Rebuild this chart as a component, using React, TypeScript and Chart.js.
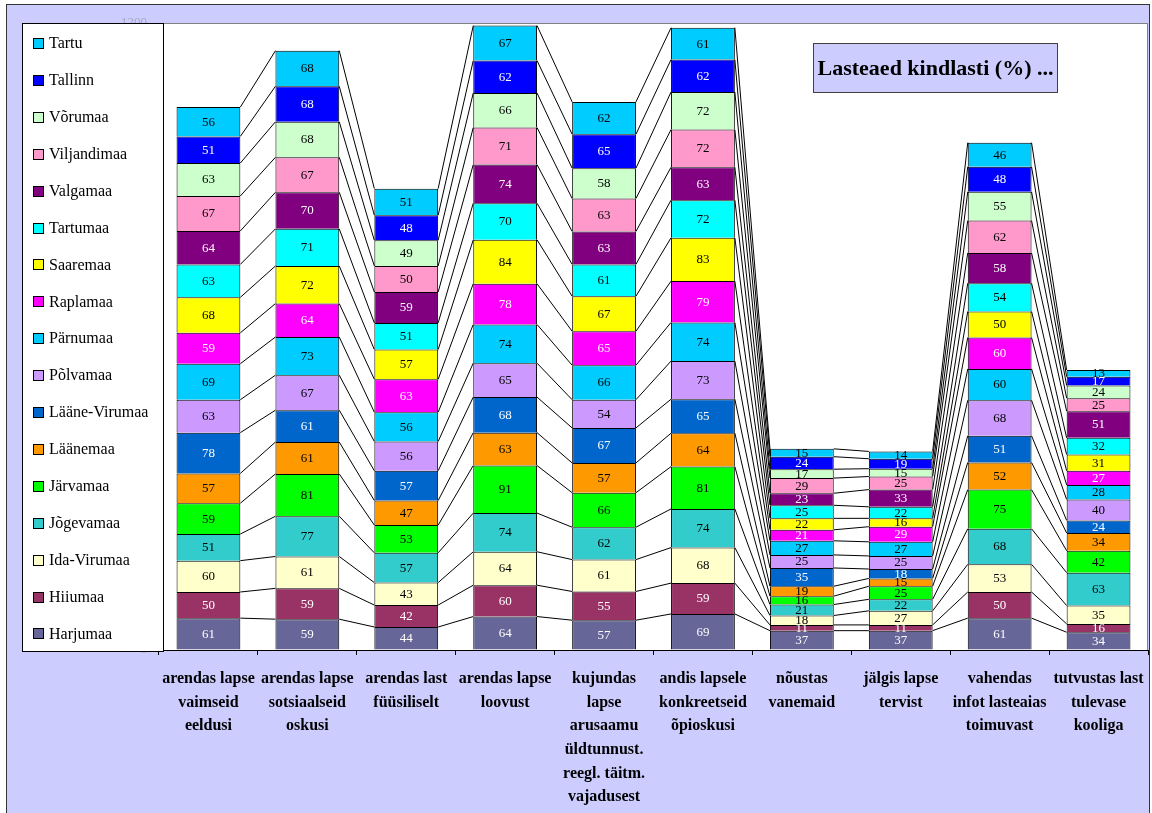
import React, { useEffect, useRef } from "react";
import { Chart, registerables } from "chart.js";
Chart.register(...registerables);

const FONT = "'Liberation Serif', 'Times New Roman', serif";

const categories: string[][] = [
  ["arendas lapse", "vaimseid", "eeldusi"],
  ["arendas lapse", "sotsiaalseid", "oskusi"],
  ["arendas last", "füüsiliselt"],
  ["arendas lapse", "loovust"],
  ["kujundas", "lapse", "arusaamu", "üldtunnust.", "reegl. täitm.", "vajadusest"],
  ["andis lapsele", "konkreetseid", "õpioskusi"],
  ["nõustas", "vanemaid"],
  ["jälgis lapse", "tervist"],
  ["vahendas", "infot lasteaias", "toimuvast"],
  ["tutvustas last", "tulevase", "kooliga"],
];

const harjumaa = [61, 59, 44, 64, 57, 69, 37, 37, 61, 34];
const hiiumaa = [50, 59, 42, 60, 55, 59, 11, 11, 50, 16];
const idaVirumaa = [60, 61, 43, 64, 61, 68, 18, 27, 53, 35];
const jogevamaa = [51, 77, 57, 74, 62, 74, 21, 22, 68, 63];
const jarvamaa = [59, 81, 53, 91, 66, 81, 16, 25, 75, 42];
const laanemaa = [57, 61, 47, 63, 57, 64, 19, 15, 52, 34];
const laaneVirumaa = [78, 61, 57, 68, 67, 65, 35, 18, 51, 24];
const polvamaa = [63, 67, 56, 65, 54, 73, 25, 25, 68, 40];
const parnumaa = [69, 73, 56, 74, 66, 74, 27, 27, 60, 28];
const raplamaa = [59, 64, 63, 78, 65, 79, 21, 29, 60, 27];
const saaremaa = [68, 72, 57, 84, 67, 83, 22, 16, 50, 31];
const tartumaa = [63, 71, 51, 70, 61, 72, 25, 22, 54, 32];
const valgamaa = [64, 70, 59, 74, 63, 63, 23, 33, 58, 51];
const viljandimaa = [67, 67, 50, 71, 63, 72, 29, 25, 62, 25];
const vorumaa = [63, 68, 49, 66, 58, 72, 17, 15, 55, 24];
const tallinn = [51, 68, 48, 62, 65, 62, 24, 19, 48, 17];
const tartu = [56, 68, 51, 67, 62, 61, 15, 14, 46, 13];

const seriesNames = [
  "Harjumaa", "Hiiumaa", "Ida-Virumaa", "Jõgevamaa", "Järvamaa", "Läänemaa",
  "Lääne-Virumaa", "Põlvamaa", "Pärnumaa", "Raplamaa", "Saaremaa", "Tartumaa",
  "Valgamaa", "Viljandimaa", "Võrumaa", "Tallinn", "Tartu",
];
const seriesData = [
  harjumaa, hiiumaa, idaVirumaa, jogevamaa, jarvamaa, laanemaa, laaneVirumaa,
  polvamaa, parnumaa, raplamaa, saaremaa, tartumaa, valgamaa, viljandimaa,
  vorumaa, tallinn, tartu,
];
const seriesColors = [
  "#666699", "#993366", "#FFFFCC", "#33CCCC", "#00FF00", "#FF9900",
  "#0066CC", "#CC99FF", "#00CCFF", "#FF00FF", "#FFFF00", "#00FFFF",
  "#800080", "#FF99CC", "#CCFFCC", "#0000FF", "#00CCFF",
];
const labelColors = [
  "#FFFFFF", "#FFFFFF", "#000000", "#000000", "#000000", "#000000",
  "#FFFFFF", "#000000", "#000000", "#FFFFFF", "#000000", "#000000",
  "#FFFFFF", "#000000", "#000000", "#FFFFFF", "#000000",
];
const yTicks = [0, 1200];
const chartTitle = "Lasteaed kindlasti (%) ...";

const framePlugin = {
  id: "frame",
  beforeDraw(chart: any) {
    const { ctx, chartArea: a } = chart;
    ctx.save();
    ctx.fillStyle = "#FFFFFF";
    ctx.fillRect(0, 0, chart.width, chart.height);
    ctx.fillStyle = "#CCCCFF";
    ctx.fillRect(6, 4, 1144, chart.height);
    ctx.strokeStyle = "#333333";
    ctx.lineWidth = 1;
    ctx.strokeRect(6.5, 4.5, 1143, chart.height + 2);
    ctx.fillStyle = "#FFFFFF";
    ctx.fillRect(a.left, a.top, a.right - a.left, a.bottom - a.top);
    ctx.strokeStyle = "#808080";
    ctx.strokeRect(a.left + 0.5, a.top + 0.5, a.right - a.left - 1, a.bottom - a.top);
    ctx.restore();
  },
};

const overlayPlugin = {
  id: "overlay",
  afterDatasetsDraw(chart: any) {
    const { ctx } = chart;
    const n = seriesData.length;
    const metas = seriesData.map((_, i) => chart.getDatasetMeta(i));
    ctx.save();
    // series lines
    ctx.strokeStyle = "#000000";
    ctx.lineWidth = 1;
    for (let c = 0; c < categories.length - 1; c++) {
      for (let s = 0; s < n; s++) {
        const a = metas[s].data[c];
        const b = metas[s].data[c + 1];
        ctx.beginPath();
        ctx.moveTo(a.x + a.width / 2, a.y);
        ctx.lineTo(b.x - b.width / 2, b.y);
        ctx.stroke();
      }
    }
    // value labels
    ctx.font = `13px ${FONT}`;
    ctx.textAlign = "center";
    ctx.textBaseline = "middle";
    for (let s = 0; s < n; s++) {
      ctx.fillStyle = labelColors[s];
      metas[s].data.forEach((el: any, c: number) => {
        ctx.fillText(String(seriesData[s][c]), el.x, (el.y + el.base) / 2 + 0.5);
      });
    }
    ctx.restore();
  },
  afterDraw(chart: any) {
    const { ctx } = chart;
    ctx.save();
    // legend box
    ctx.fillStyle = "#FFFFFF";
    ctx.fillRect(22, 23, 141, 628);
    ctx.strokeStyle = "#000000";
    ctx.lineWidth = 1;
    ctx.strokeRect(22.5, 23.5, 141, 628);
    ctx.font = `16px ${FONT}`;
    ctx.textAlign = "left";
    ctx.textBaseline = "middle";
    const n = seriesNames.length;
    for (let k = 0; k < n; k++) {
      const s = n - 1 - k;
      const cy = 43 + k * 36.9;
      ctx.fillStyle = seriesColors[s];
      ctx.fillRect(33, Math.round(cy) - 5, 10, 10);
      ctx.strokeStyle = "#000000";
      ctx.strokeRect(33.5, Math.round(cy) - 4.5, 10, 10);
      ctx.fillStyle = "#000000";
      ctx.fillText(seriesNames[s], 49, cy + 1);
    }
    // title box
    ctx.fillStyle = "#CCCCFF";
    ctx.fillRect(813, 43, 244, 49);
    ctx.strokeStyle = "#404040";
    ctx.strokeRect(813.5, 43.5, 244, 49);
    ctx.fillStyle = "#000000";
    ctx.font = `bold 22px ${FONT}`;
    ctx.textAlign = "center";
    ctx.fillText(chartTitle, 935.5, 69);
    ctx.restore();
  },
};

export default function App() {
  const ref = useRef<HTMLCanvasElement | null>(null);
  useEffect(() => {
    if (!ref.current) return;
    const chart = new Chart(ref.current, {
      type: "bar",
      data: {
        labels: categories,
        datasets: seriesNames.map((name, i) => ({
          label: name,
          data: seriesData[i],
          backgroundColor: seriesColors[i],
          borderColor: "#000000",
          borderWidth: 1,
          barPercentage: 0.645,
          categoryPercentage: 1,
        })),
      },
      options: {
        animation: false,
        responsive: false,
        layout: { padding: { left: 0, top: 23, right: 4, bottom: 0 } },
        plugins: {
          legend: { display: false },
          tooltip: { enabled: false },
          title: { display: false },
        },
        scales: {
          x: {
            stacked: true,
            grid: {
              display: true,
              drawOnChartArea: false,
              drawTicks: true,
              tickLength: 5,
              color: "#000000",
              offset: true,
            },
            border: { display: true, color: "#000000" },
            ticks: {
              color: "#000000",
              font: { family: FONT, size: 16, weight: "bold", lineHeight: 1.48 },
              maxRotation: 0,
              minRotation: 0,
              autoSkip: false,
              padding: 12,
            },
            afterFit: (s: any) => {
              s.height = 163;
              s.paddingLeft = 0;
              s.paddingRight = 0;
            },
          },
          y: {
            stacked: true,
            min: 0,
            max: 1200,
            afterBuildTicks: (s: any) => {
              s.ticks = yTicks.map((v) => ({ value: v }));
            },
            ticks: {
              color: "#A8A8C0",
              font: { family: FONT, size: 13 },
              padding: 8,
              callback: (v: any) => String(v),
            },
            grid: { drawOnChartArea: false, tickLength: 4, color: "#000000" },
            border: { display: true, color: "#000000" },
            afterFit: (s: any) => {
              s.width = 159;
              s.paddingTop = 0;
              s.paddingBottom = 0;
            },
          },
        },
      },
      plugins: [framePlugin, overlayPlugin],
    });
    return () => chart.destroy();
  }, []);
  return (
    <div style={{ position: "fixed", left: 0, top: 0, width: 1152, height: 813 }}>
      <canvas ref={ref} width={1152} height={813} style={{ width: 1152, height: 813 }} />
    </div>
  );
}
